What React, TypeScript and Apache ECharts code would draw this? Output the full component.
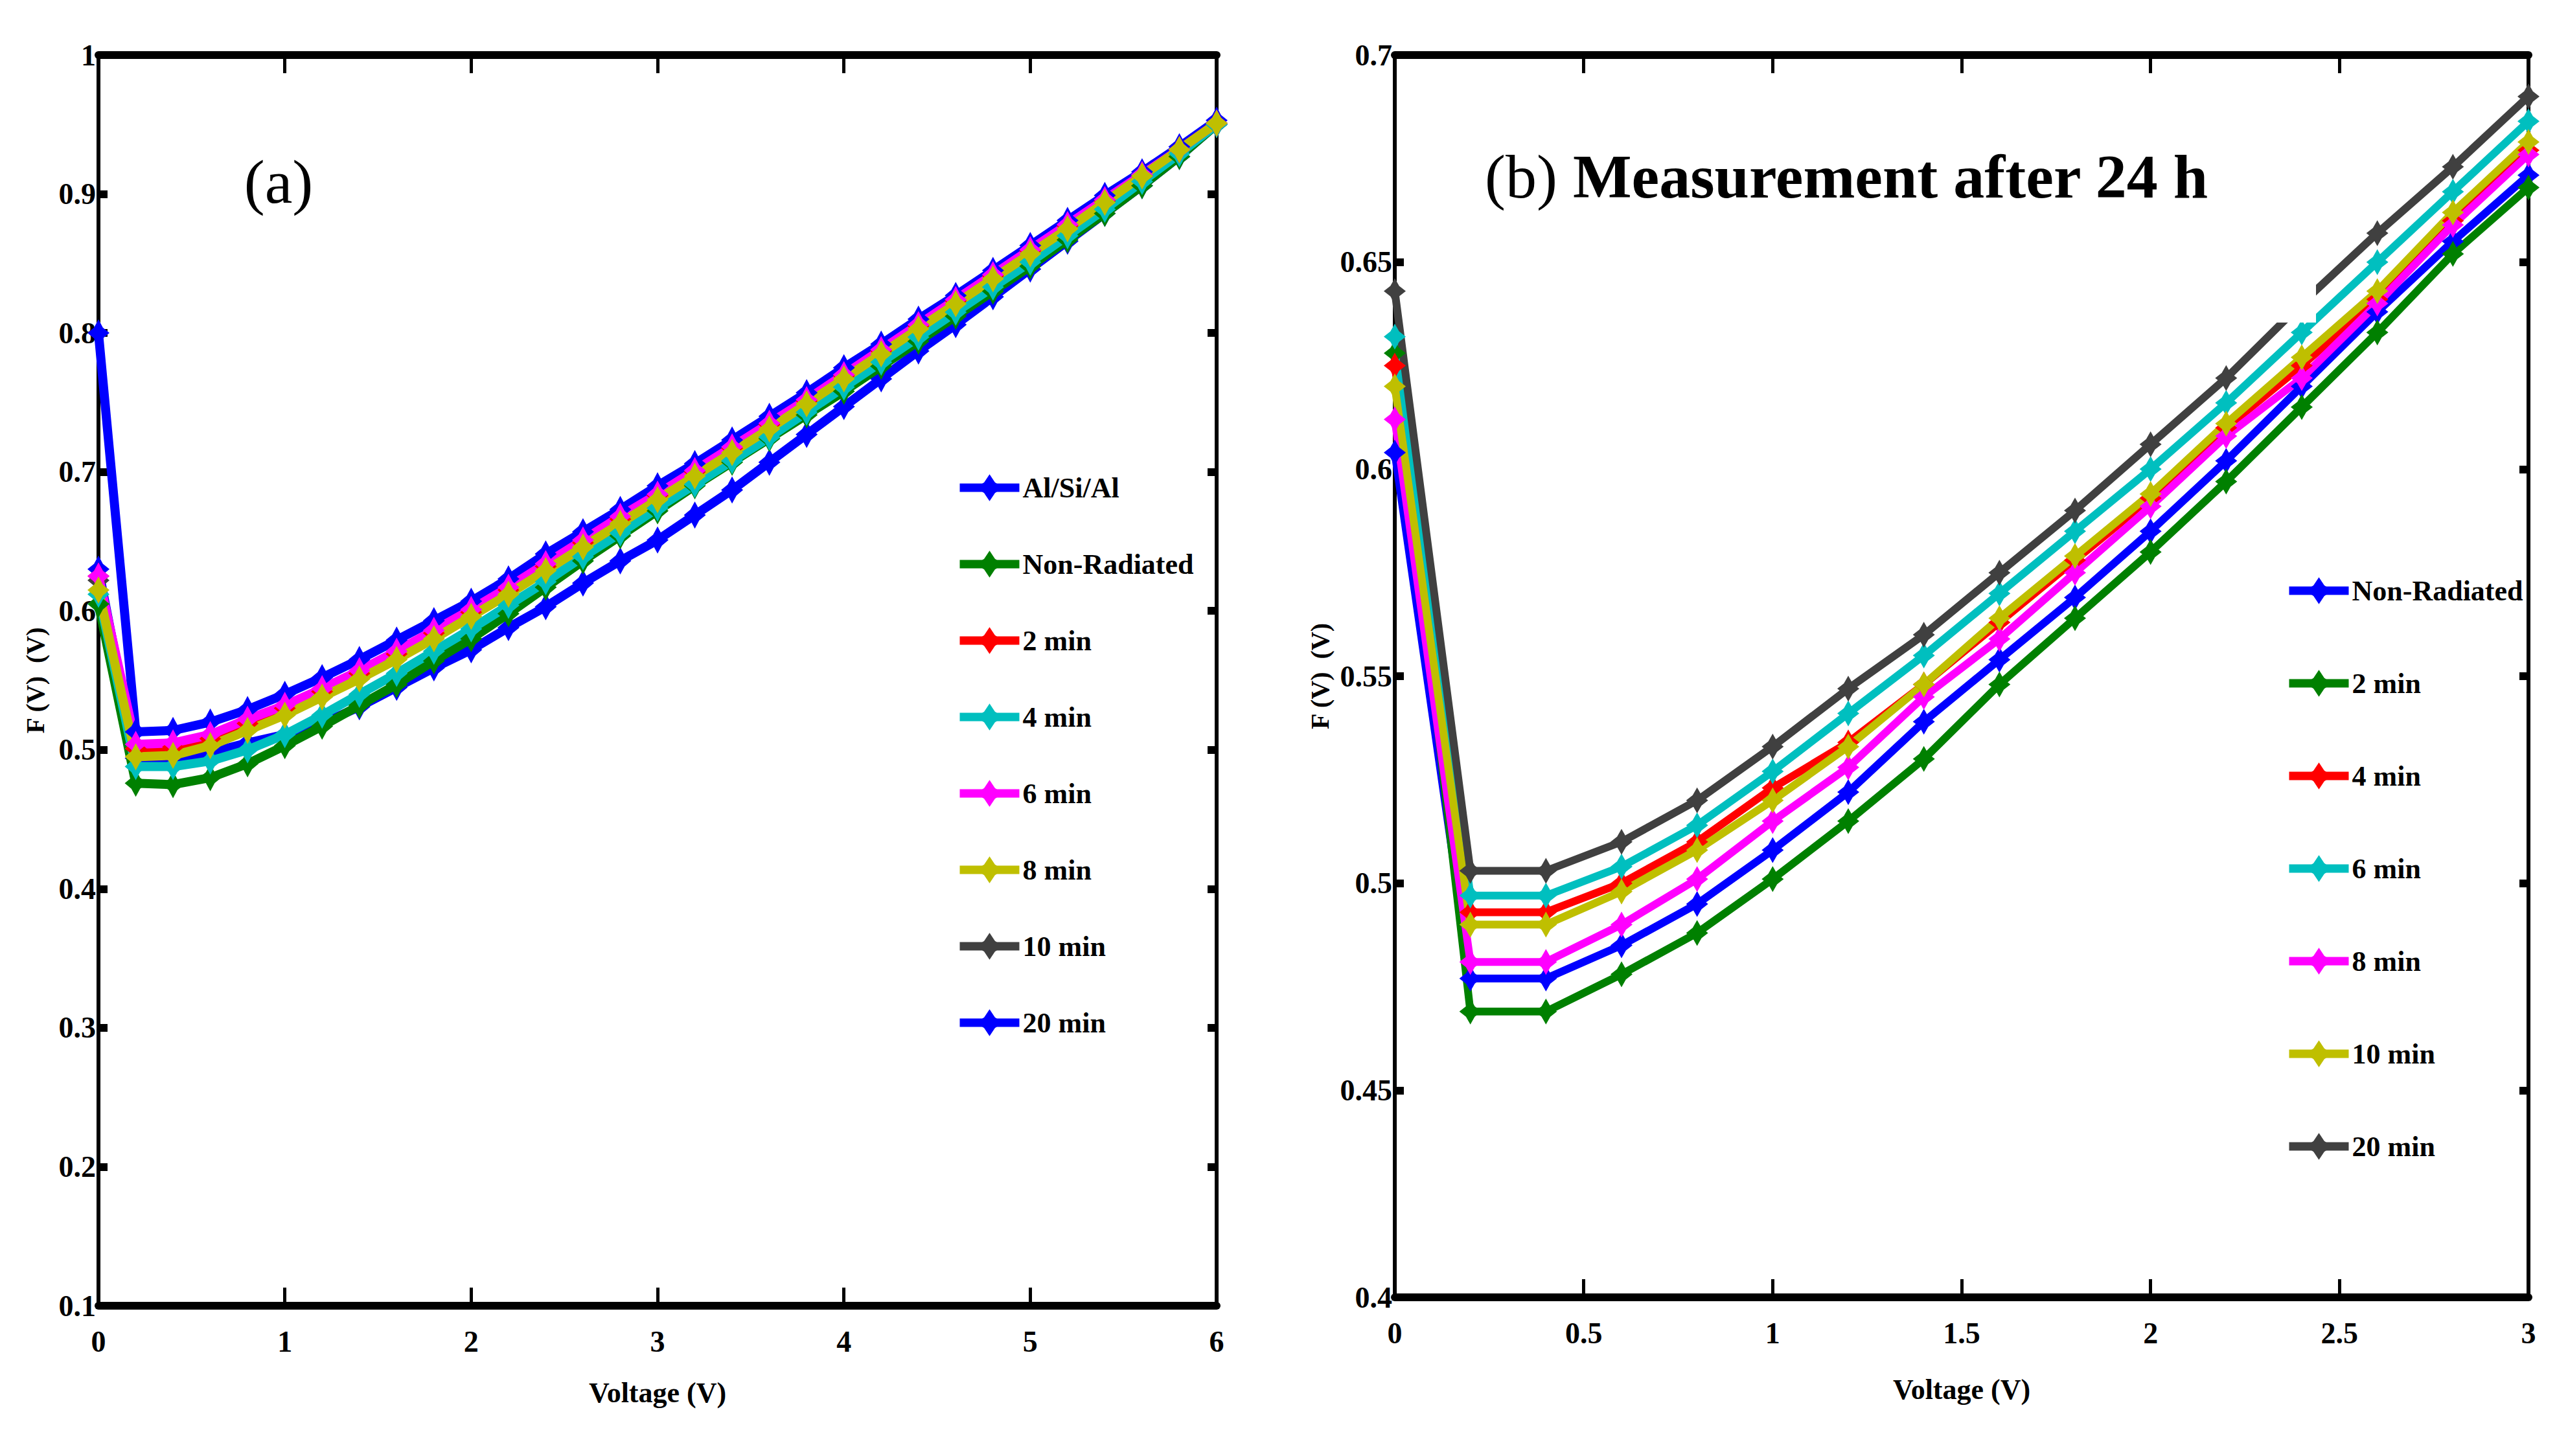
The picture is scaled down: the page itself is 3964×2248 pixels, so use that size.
import React, { useEffect, useRef } from "react";
import * as echarts from "echarts";

// ---------- Panel (a) data ----------
const voltageA = [0, 0.2, 0.4, 0.6, 0.8, 1.0, 1.2, 1.4, 1.6, 1.8, 2.0, 2.2, 2.4, 2.6, 2.8, 3.0, 3.2, 3.4, 3.6, 3.8, 4.0, 4.2, 4.4, 4.6, 4.8, 5.0, 5.2, 5.4, 5.6, 5.8, 6.0];
const alSiAlA = [0.800, 0.513, 0.514, 0.520, 0.529, 0.540, 0.552, 0.565, 0.579, 0.593, 0.607, 0.623, 0.641, 0.657, 0.673, 0.690, 0.706, 0.723, 0.740, 0.757, 0.775, 0.792, 0.810, 0.827, 0.845, 0.863, 0.881, 0.899, 0.916, 0.934, 0.953];
const nonRadA = [0.605, 0.476, 0.475, 0.480, 0.490, 0.503, 0.517, 0.532, 0.547, 0.564, 0.580, 0.598, 0.617, 0.636, 0.654, 0.672, 0.690, 0.707, 0.724, 0.741, 0.758, 0.776, 0.794, 0.812, 0.830, 0.848, 0.867, 0.886, 0.906, 0.927, 0.950];
const min2A = [0.625, 0.501, 0.502, 0.508, 0.519, 0.530, 0.542, 0.555, 0.569, 0.584, 0.599, 0.615, 0.632, 0.649, 0.666, 0.683, 0.700, 0.717, 0.734, 0.751, 0.769, 0.787, 0.805, 0.823, 0.841, 0.859, 0.877, 0.895, 0.913, 0.932, 0.951];
const min4A = [0.612, 0.488, 0.488, 0.492, 0.500, 0.511, 0.525, 0.540, 0.555, 0.571, 0.587, 0.604, 0.621, 0.639, 0.656, 0.674, 0.691, 0.708, 0.725, 0.743, 0.761, 0.779, 0.797, 0.815, 0.833, 0.851, 0.870, 0.889, 0.909, 0.929, 0.950];
const min6A = [0.625, 0.504, 0.505, 0.511, 0.522, 0.532, 0.544, 0.557, 0.571, 0.586, 0.601, 0.617, 0.634, 0.651, 0.668, 0.684, 0.701, 0.718, 0.735, 0.752, 0.770, 0.788, 0.806, 0.824, 0.842, 0.860, 0.878, 0.896, 0.914, 0.932, 0.951];
const min8A = [0.615, 0.495, 0.496, 0.503, 0.514, 0.525, 0.538, 0.551, 0.565, 0.580, 0.596, 0.612, 0.629, 0.646, 0.663, 0.680, 0.697, 0.714, 0.731, 0.749, 0.767, 0.785, 0.803, 0.821, 0.839, 0.857, 0.875, 0.894, 0.913, 0.932, 0.951];
const min10A = [0.622, 0.500, 0.501, 0.507, 0.518, 0.529, 0.541, 0.554, 0.568, 0.583, 0.598, 0.614, 0.631, 0.648, 0.665, 0.682, 0.699, 0.716, 0.733, 0.750, 0.768, 0.786, 0.804, 0.822, 0.840, 0.858, 0.876, 0.895, 0.913, 0.932, 0.951];
const min20A = [0.630, 0.494, 0.494, 0.498, 0.505, 0.511, 0.519, 0.531, 0.545, 0.559, 0.572, 0.588, 0.603, 0.620, 0.636, 0.651, 0.669, 0.687, 0.707, 0.727, 0.747, 0.767, 0.787, 0.806, 0.826, 0.846, 0.866, 0.886, 0.906, 0.927, 0.950];
const namesA = ["Al/Si/Al", "Non-Radiated", "2 min", "4 min", "6 min", "8 min", "10 min", "20 min"];
const colorsA = ["#0000ff", "#008000", "#ff0000", "#00bfbf", "#ff00ff", "#bfbf00", "#404040", "#0000ff"];
const zA = [3, 3, 3, 3, 3, 3, 2, 2];
const valuesA = [alSiAlA, nonRadA, min2A, min4A, min6A, min8A, min10A, min20A];
const ticksA = ["0.1", "0.2", "0.3", "0.4", "0.5", "0.6", "0.7", "0.8", "0.9", "1"];

// ---------- Panel (b) data ----------
const voltageB = [0, 0.2, 0.4, 0.6, 0.8, 1.0, 1.2, 1.4, 1.6, 1.8, 2.0, 2.2, 2.4, 2.6, 2.8, 3.0];
const nonRadB = [0.604, 0.477, 0.477, 0.485, 0.495, 0.508, 0.522, 0.539, 0.554, 0.569, 0.585, 0.602, 0.620, 0.638, 0.655, 0.671];
const min2B = [0.628, 0.469, 0.469, 0.478, 0.488, 0.501, 0.515, 0.530, 0.548, 0.564, 0.580, 0.597, 0.615, 0.633, 0.652, 0.668];
const min4B = [0.625, 0.493, 0.493, 0.500, 0.510, 0.523, 0.534, 0.548, 0.563, 0.578, 0.593, 0.610, 0.625, 0.641, 0.660, 0.677];
const min6B = [0.632, 0.497, 0.497, 0.504, 0.514, 0.527, 0.541, 0.555, 0.570, 0.585, 0.600, 0.616, 0.633, 0.650, 0.667, 0.684];
const min8B = [0.612, 0.481, 0.481, 0.490, 0.501, 0.515, 0.528, 0.545, 0.559, 0.575, 0.591, 0.608, 0.622, 0.640, 0.659, 0.676];
const min10B = [0.620, 0.490, 0.490, 0.498, 0.508, 0.520, 0.533, 0.548, 0.564, 0.579, 0.594, 0.611, 0.627, 0.643, 0.662, 0.679];
const min20B = [0.643, 0.503, 0.503, 0.510, 0.520, 0.533, 0.547, 0.560, 0.575, 0.590, 0.606, 0.622, 0.640, 0.657, 0.673, 0.690];
const namesB = ["Non-Radiated", "2 min", "4 min", "6 min", "8 min", "10 min", "20 min"];
const colorsB = ["#0000ff", "#008000", "#ff0000", "#00bfbf", "#ff00ff", "#bfbf00", "#404040"];
const zB = [3, 3, 3, 3, 3, 3, 3];
const valuesB = [nonRadB, min2B, min4B, min6B, min8B, min10B, min20B];
const ticksB = ["0.4", "0.45", "0.5", "0.55", "0.6", "0.65", "0.7"];

const FONT = "'Liberation Serif', 'Times New Roman', serif";
const STAR = "path://M0,-10 L4,-4 L10,0 L4,4 L0,10 L-4,4 L-10,0 L-4,-4 Z";

function buildSeries(names: string[], colors: string[], zs: number[], xs: number[], values: number[][], lw: number, size: number[]) {
  return names.map((name, k) => ({
    name,
    type: "line",
    z: zs[k],
    data: xs.map((x, i) => [x, values[k][i]]),
    symbol: STAR,
    symbolSize: size,
    showSymbol: true,
    lineStyle: { color: colors[k], width: lw },
    itemStyle: { color: colors[k] },
    emphasis: { disabled: true },
    xAxisIndex: 0,
    yAxisIndex: 0,
  }));
}

function buildOption(cfg: any) {
  const axisLineX = { show: true, onZero: false, lineStyle: { color: "#000", width: 12 } };
  const axisLineY = { show: true, onZero: false, lineStyle: { color: "#000", width: 6 } };
  const tickX = { show: true, inside: true, length: 28, lineStyle: { color: "#000", width: 5 } };
  const tickY = { show: true, inside: true, length: 14, lineStyle: { color: "#000", width: 12 } };
  const labelStyle = { fontFamily: FONT, fontWeight: "bold", fontSize: 46, color: "#000" };
  return {
    animation: false,
    backgroundColor: "#fff",
    grid: { left: cfg.grid.left, top: cfg.grid.top, width: cfg.grid.width, height: cfg.grid.height, containLabel: false, outerBoundsMode: "none" },
    xAxis: [
      {
        type: "value", position: "bottom", min: cfg.xMin, max: cfg.xMax, interval: cfg.xInt,
        axisLine: axisLineX, axisTick: tickX, splitLine: { show: false },
        axisLabel: { ...labelStyle, margin: 32 },
        name: "Voltage (V)", nameLocation: "middle", nameGap: cfg.xNameGap,
        nameTextStyle: { fontFamily: FONT, fontWeight: "bold", fontSize: 44, color: "#000" },
      },
      {
        type: "value", position: "top", min: cfg.xMin, max: cfg.xMax, interval: cfg.xInt,
        axisLine: axisLineX, axisTick: tickX, splitLine: { show: false }, axisLabel: { show: false },
      },
    ],
    yAxis: [
      {
        type: "value", position: "left", min: cfg.yMin, max: cfg.yMax, interval: cfg.yInt,
        axisLine: axisLineY, axisTick: tickY, splitLine: { show: false },
        axisLabel: { ...labelStyle, margin: 4, formatter: (v: number) => cfg.ticks[Math.round((v - cfg.yMin) / cfg.yInt)] },
        name: "F (V)  (V)", nameLocation: "middle", nameRotate: 90, nameGap: cfg.yNameGap,
        nameTextStyle: { fontFamily: FONT, fontWeight: "bold", fontSize: 40, color: "#000" },
      },
      {
        type: "value", position: "right", min: cfg.yMin, max: cfg.yMax, interval: cfg.yInt,
        axisLine: axisLineY, axisTick: tickY, splitLine: { show: false }, axisLabel: { show: false },
      },
    ],
    legend: {
      orient: "vertical", left: cfg.legend.left, top: cfg.legend.top,
      itemWidth: 92, itemHeight: 52, itemGap: cfg.legend.gap,
      data: cfg.names,
      lineStyle: { width: 13 },
      textStyle: { fontFamily: FONT, fontWeight: "bold", fontSize: 44, color: "#000" },
      selectedMode: false,
    },
    graphic: cfg.graphic,
    series: cfg.series,
  };
}

function Panel(props: { option: any; left: number; width: number }) {
  const ref = useRef<HTMLDivElement>(null);
  useEffect(() => {
    if (!ref.current) return;
    const chart = echarts.init(ref.current, undefined, { renderer: "svg" });
    chart.setOption(props.option);
    return () => chart.dispose();
  }, []);
  return <div ref={ref} style={{ position: "absolute", left: props.left, top: 0, width: props.width, height: 2248 }} />;
}

export default function App() {
  useEffect(() => {
    document.body.style.margin = "0";
  }, []);

  const optionA = buildOption({
    grid: { left: 152, top: 85, width: 1726, height: 1931 },
    xMin: 0, xMax: 6, xInt: 1, xNameGap: 112,
    yMin: 0.1, yMax: 1, yInt: 0.1, yNameGap: 78, ticks: ticksA,
    names: namesA,
    legend: { left: 1470, top: 726, gap: 74 },
    series: buildSeries(namesA, colorsA, zA, voltageA, valuesA, 14, [34, 42]),
    graphic: [
      { type: "text", x: 430, y: 280, style: { text: "(a)", fontSize: 96, fontFamily: FONT, fill: "#000", align: "center", verticalAlign: "middle" } },
    ],
  });

  const optionB = buildOption({
    grid: { left: 153, top: 85, width: 1750, height: 1918 },
    xMin: 0, xMax: 3, xInt: 0.5, xNameGap: 120,
    yMin: 0.4, yMax: 0.7, yInt: 0.05, yNameGap: 84, ticks: ticksB,
    names: namesB,
    legend: { left: 1522, top: 885, gap: 99 },
    series: buildSeries(namesB, colorsB, zB, voltageB, valuesB, 12, [34, 40]),
    graphic: [
      {
        type: "text", x: 292, y: 272,
        style: {
          text: "{r|(b)} {b|Measurement after 24 h}",
          rich: {
            r: { fontSize: 96, fontFamily: FONT, fill: "#000" },
            b: { fontSize: 96, fontFamily: FONT, fontWeight: "bold", fill: "#000" },
          },
          fontSize: 96, fontFamily: FONT, fill: "#000", verticalAlign: "middle",
        },
      },
      { type: "rect", z: 50, shape: { x: 1440, y: 390, width: 135, height: 108 }, style: { fill: "#fff" } },
    ],
  });

  return (
    <div style={{ position: "relative", width: 3964, height: 2248, background: "#fff", overflow: "hidden" }}>
      <Panel option={optionA} left={0} width={2000} />
      <Panel option={optionB} left={2000} width={1964} />
    </div>
  );
}
